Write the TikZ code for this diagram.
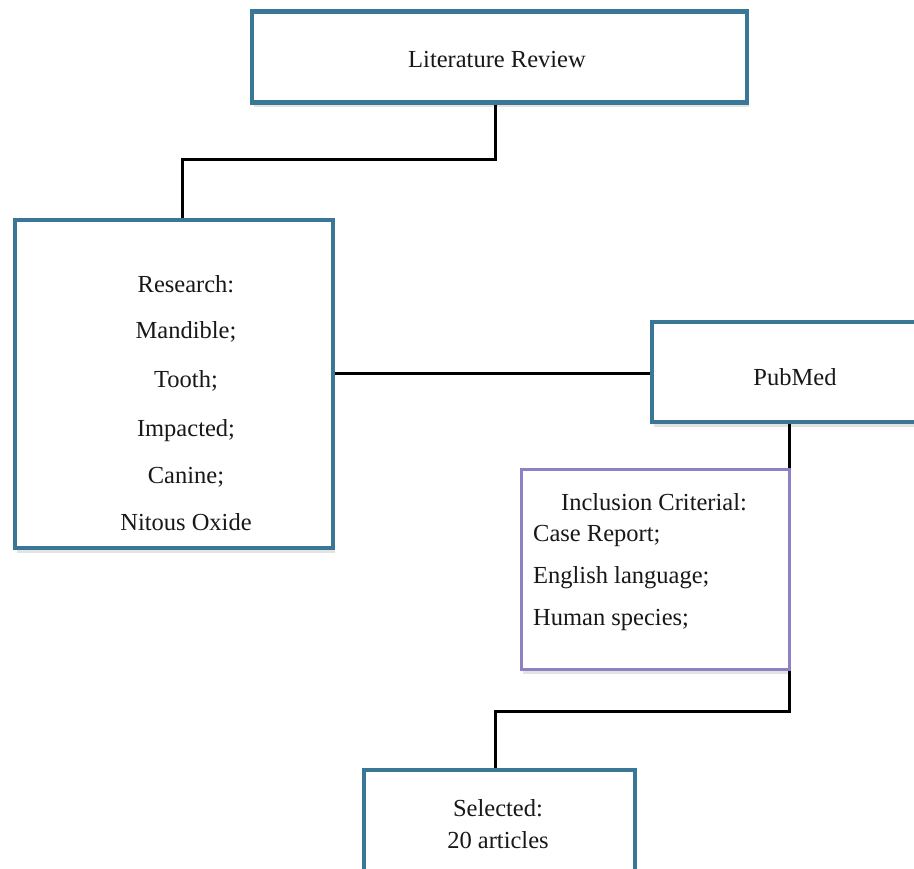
\documentclass[tikz,border=0pt]{standalone}
\usepackage{fontspec}
\setmainfont{Liberation Serif}
\usetikzlibrary{shadows}
\definecolor{boxblue}{HTML}{3A7696}
\definecolor{boxpurple}{HTML}{8F80C4}
\definecolor{txt}{HTML}{181818}
\tikzset{
  bluebox/.style={draw=boxblue, line width=4.5pt, fill=white, rectangle, inner sep=0pt,
    drop shadow={opacity=0.22, shadow xshift=2pt, shadow yshift=-5pt}},
  purplebox/.style={draw=boxpurple, line width=3pt, fill=white, rectangle, inner sep=0pt,
    drop shadow={opacity=0.22, shadow xshift=2pt, shadow yshift=-5pt}},
  lbl/.style={inner sep=0pt, anchor=base, text=txt, font=\fontsize{24.5}{28}\selectfont},
  lbll/.style={lbl, anchor=base west},
  conn/.style={draw=black, line width=3pt}
}
\begin{document}
\begin{tikzpicture}[x=1pt, y=-1pt]
\useasboundingbox (0,0) rectangle (914,869);
\clip (0,0) rectangle (914,869);
\fill[white] (0,0) rectangle (914,869);

% boxes
\node[bluebox, minimum width=495pt, minimum height=91pt] (lit) at (499.5,57) {};
\node[bluebox, minimum width=318pt, minimum height=328pt] (res) at (174,384) {};
\node[bluebox, minimum width=286pt, minimum height=100pt] (pub) at (795,372) {};
\node[purplebox, minimum width=268pt, minimum height=200pt] (inc) at (655,569) {};
\node[bluebox, minimum width=271pt, minimum height=110pt] (sel) at (499.5,825) {};

% connectors
\coordinate (c1) at (495,160);
\coordinate (c2) at (182,160);
\draw[conn] (lit.south -| c1) -- (c1) -- (c2) -- (res.north -| c2);
\draw[conn] (res.east |- 0,374) -- (pub.west |- 0,374);
\coordinate (c3) at (789,711);
\coordinate (c4) at (495,711);
\draw[conn] (pub.south -| c3) -- (inc.north east -| c3);
\draw[conn] (inc.south east -| c3) -- (c3) -- (c4) -- (sel.north -| c4);

% texts
\node[lbl] (tlit) at (497,68) {Literature Review};
\foreach \t/\yy [count=\i] in {Research:/293, Mandible;/339, Tooth;/388, Impacted;/436, Canine;/483, Nitous Oxide/530}
  \node[lbl] (r\i) at (186,\yy) {\t};
\node[lbl] (tpub) at (795,385) {PubMed};
\node[lbl] (i1) at (654,510) {Inclusion Criterial:};
\node[lbll] (i2) at (533,541) {Case Report;};
\node[lbll] (i3) at (533,583) {English language;};
\node[lbll] (i4) at (533,625) {Human species;};
\node[lbl] (s1) at (498,816) {Selected:};
\node[lbl] (s2) at (498,848) {20 articles};
\end{tikzpicture}
\end{document}
